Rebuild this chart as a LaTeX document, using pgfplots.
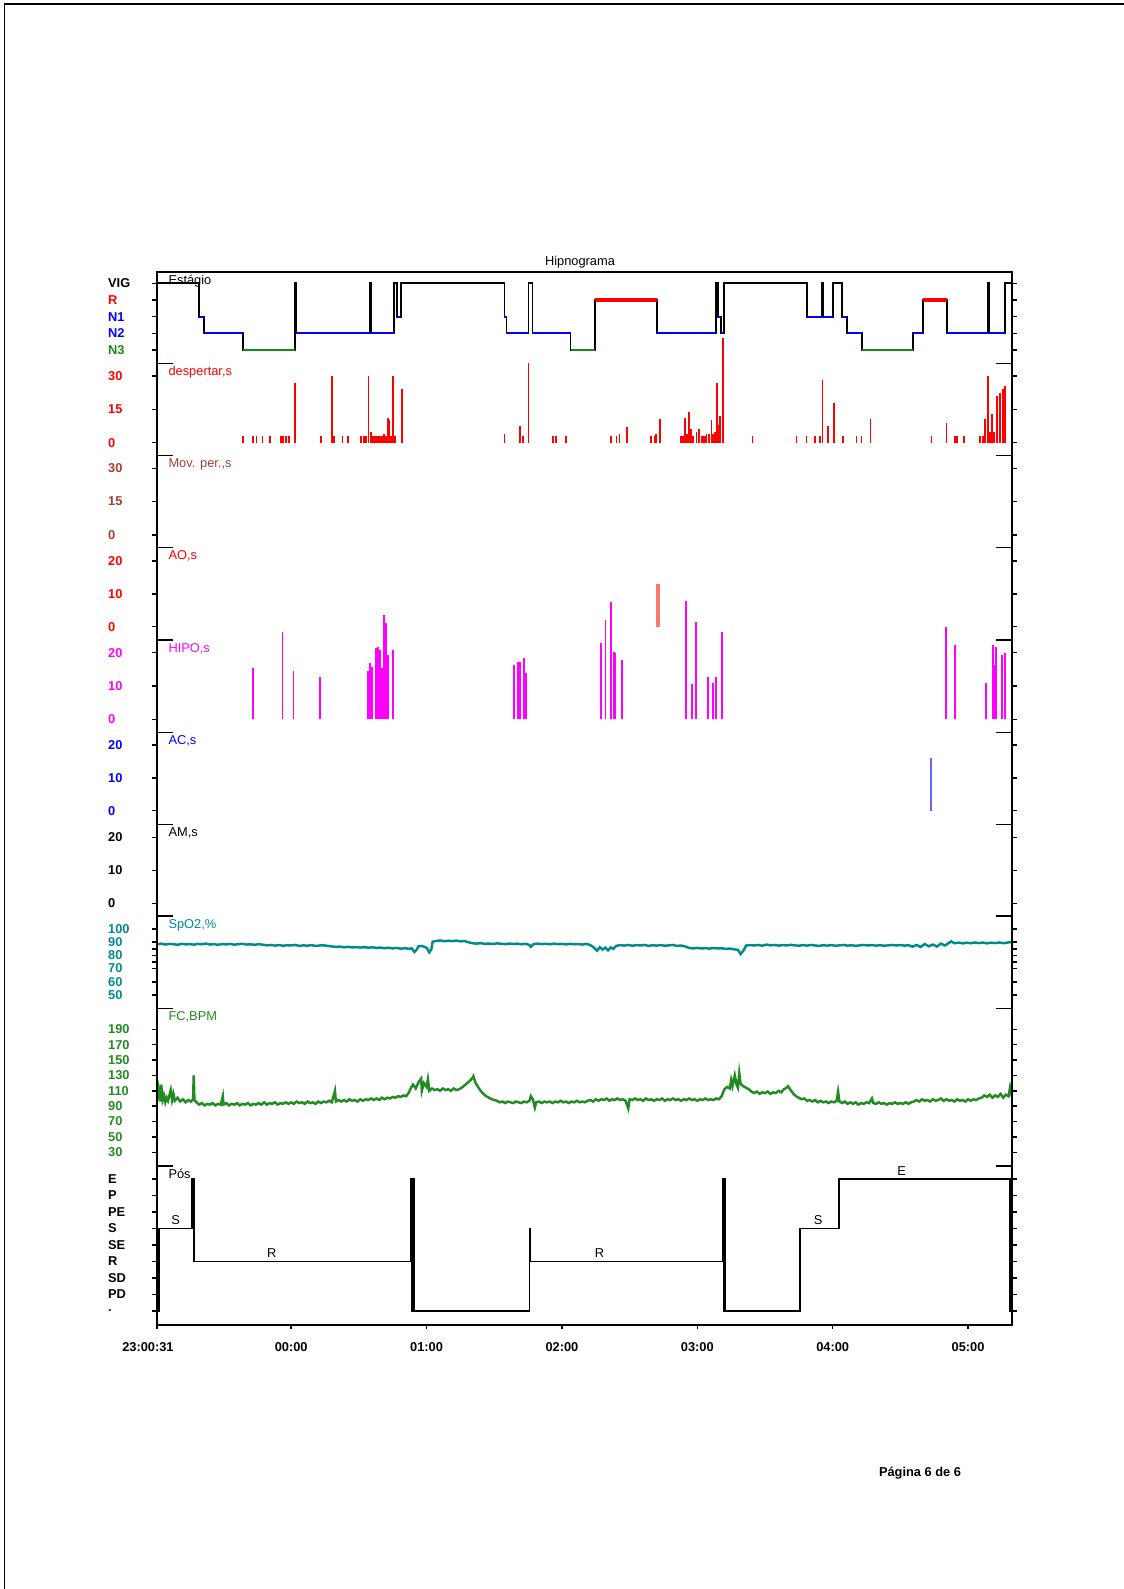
\documentclass[border=0pt]{standalone}
\usepackage{pgfplots}
\usepackage{pgfplotstable}
\pgfplotsset{compat=1.18}
\usepackage{fontspec}
\setmainfont{Liberation Sans}
\definecolor{brn}{RGB}{160,64,48}
\definecolor{tealc}{RGB}{0,139,139}
\definecolor{fcgreen}{RGB}{34,139,34}
\definecolor{mag}{RGB}{255,0,255}
\definecolor{salm}{RGB}{250,120,110}
\definecolor{acblue}{RGB}{100,100,255}
\definecolor{n3green}{RGB}{20,140,20}
\newcommand{\fs}{\fontsize{6.8bp}{8bp}\selectfont}
\newcommand{\fb}{\fontsize{6.8bp}{8bp}\selectfont\bfseries}

\pgfplotstableread{
x v
-0.99 88.4
-0.96 88.9
-0.93 88.2
-0.90 88.7
-0.87 88.5
-0.84 88.0
-0.81 88.8
-0.78 88.3
-0.75 88.6
-0.72 88.1
-0.69 88.7
-0.66 88.4
-0.63 88.9
-0.60 88.2
-0.57 88.5
-0.54 88.0
-0.51 88.6
-0.48 88.3
-0.45 88.7
-0.42 88.1
-0.39 88.5
-0.36 88.8
-0.33 88.2
-0.30 88.4
-0.27 88.0
-0.24 88.5
-0.21 88.1
-0.18 87.6
-0.15 87.9
-0.12 87.4
-0.09 87.8
-0.06 87.3
-0.03 87.7
0.00 87.5
0.03 87.9
0.06 87.2
0.09 87.6
0.12 87.3
0.15 87.8
0.18 87.1
0.21 87.5
0.24 87.6
0.27 87.2
0.30 86.8
0.33 86.4
0.36 86.7
0.39 86.1
0.42 86.5
0.45 86.0
0.48 86.3
0.51 85.9
0.54 86.2
0.57 85.8
0.60 86.1
0.63 85.7
0.66 85.9
0.69 85.4
0.72 85.8
0.75 85.3
0.78 85.7
0.81 85.0
0.84 85.5
0.87 84.9
0.89 85.4
0.91 82.6
0.925 84.0
0.94 86.8
0.96 87.2
0.98 86.6
1.00 85.8
1.02 82.3
1.035 84.5
1.045 90.4
1.07 90.9
1.10 91.3
1.13 90.7
1.16 91.1
1.19 90.8
1.22 91.2
1.25 90.6
1.28 90.9
1.31 89.9
1.34 89.2
1.37 88.9
1.40 89.3
1.43 88.7
1.46 89.0
1.49 88.6
1.52 89.1
1.55 88.8
1.58 88.5
1.61 89.0
1.64 88.6
1.67 88.9
1.70 88.4
1.73 88.8
1.76 87.9
1.77 86.5
1.79 88.6
1.82 88.9
1.85 88.5
1.88 88.8
1.91 88.4
1.94 88.9
1.97 88.5
2.00 88.7
2.03 88.3
2.06 88.8
2.09 88.4
2.12 88.6
2.15 88.2
2.18 88.7
2.21 87.8
2.24 85.6
2.26 83.5
2.28 86.2
2.30 84.4
2.32 85.8
2.34 83.8
2.36 86.0
2.38 84.9
2.40 87.2
2.43 87.8
2.46 87.4
2.49 87.9
2.52 87.3
2.55 87.8
2.58 87.5
2.61 87.9
2.64 87.2
2.67 87.7
2.70 87.4
2.73 87.8
2.76 87.3
2.79 87.6
2.82 87.9
2.85 87.2
2.88 87.5
2.91 86.8
2.94 85.6
2.97 85.3
3.00 85.7
3.03 85.2
3.06 85.5
3.09 85.1
3.12 85.6
3.15 85.2
3.18 85.4
3.21 84.9
3.24 85.2
3.27 84.6
3.30 84.2
3.32 81.0
3.34 83.5
3.36 87.4
3.39 87.8
3.42 87.5
3.45 87.9
3.48 87.3
3.51 88.2
3.54 87.6
3.57 87.9
3.60 87.4
3.63 87.8
3.66 87.5
3.69 88.0
3.72 87.6
3.75 87.3
3.78 87.8
3.81 87.4
3.84 87.9
3.87 87.5
3.90 87.2
3.93 87.7
3.96 87.4
3.99 87.8
4.02 87.3
4.05 87.6
4.08 87.9
4.11 87.4
4.14 87.7
4.17 87.2
4.20 87.6
4.23 87.9
4.26 87.5
4.29 87.8
4.32 87.4
4.35 87.7
4.38 87.3
4.41 87.6
4.44 87.9
4.47 87.5
4.50 87.8
4.53 87.4
4.56 87.7
4.59 86.6
4.62 87.9
4.65 86.3
4.68 88.6
4.71 86.9
4.74 88.2
4.77 86.7
4.80 88.9
4.83 87.5
4.86 89.5
4.875 90.6
4.90 89.2
4.93 89.7
4.96 89.1
4.99 89.6
5.02 89.2
5.05 89.8
5.08 89.3
5.11 89.7
5.14 89.1
5.17 89.6
5.20 89.3
5.23 89.8
5.26 89.2
5.29 89.7
5.32 90.0
}\spo

\pgfplotstableread{
x v
-0.99 100
-0.98 112
-0.97 96
-0.96 118
-0.95 98
-0.94 104
-0.93 95
-0.92 101
-0.91 97
-0.89 111
-0.88 98
-0.87 106
-0.86 97
-0.84 101
-0.82 96
-0.80 99
-0.78 95
-0.76 98
-0.74 96
-0.725 99
-0.72 130
-0.715 98
-0.70 95
-0.68 92
-0.66 94
-0.64 91
-0.62 93
-0.60 92
-0.58 94
-0.56 91
-0.54 93
-0.52 92
-0.505 103
-0.50 92
-0.48 94
-0.46 91
-0.44 93
-0.42 92
-0.40 94
-0.38 91
-0.36 93
-0.34 92
-0.32 94
-0.30 91
-0.28 93
-0.26 92
-0.24 94
-0.22 92
-0.20 95
-0.18 92
-0.16 94
-0.14 93
-0.12 95
-0.10 92
-0.08 94
-0.06 93
-0.04 95
-0.02 93
0.00 95
0.02 93
0.04 96
0.06 94
0.08 95
0.10 93
0.12 96
0.14 94
0.16 95
0.18 93
0.20 96
0.22 94
0.24 96
0.26 95
0.28 97
0.30 95
0.323 110
0.33 96
0.35 98
0.37 96
0.39 98
0.41 96
0.43 99
0.45 97
0.47 98
0.49 96
0.51 99
0.53 97
0.55 99
0.57 98
0.59 100
0.61 98
0.63 100
0.65 98
0.67 101
0.69 99
0.71 101
0.73 100
0.75 102
0.77 101
0.79 103
0.81 102
0.83 104
0.85 103
0.87 108
0.885 114
0.90 118
0.92 113
0.94 121
0.96 126
0.965 110
0.98 120
1.00 115
1.01 125
1.02 110
1.04 113
1.06 111
1.08 112
1.10 110
1.12 113
1.14 111
1.16 112
1.18 110
1.20 113
1.22 111
1.24 112
1.26 114
1.28 117
1.30 120
1.32 123
1.34 127
1.346 129
1.36 121
1.38 115
1.40 110
1.42 106
1.44 103
1.46 101
1.48 99
1.50 98
1.52 97
1.54 95
1.56 96
1.58 94
1.60 96
1.62 95
1.64 94
1.66 96
1.68 95
1.70 94
1.72 96
1.74 95
1.76 97
1.77 103
1.785 99
1.80 88
1.81 95
1.83 96
1.85 94
1.87 96
1.89 95
1.91 96
1.93 94
1.95 96
1.97 95
1.99 97
2.01 95
2.03 96
2.05 94
2.07 96
2.09 95
2.11 97
2.13 95
2.15 96
2.17 95
2.19 97
2.21 98
2.23 96
2.25 99
2.27 97
2.29 99
2.31 98
2.33 100
2.35 97
2.37 99
2.39 98
2.41 100
2.43 98
2.45 99
2.47 97
2.49 87
2.50 99
2.52 98
2.54 100
2.56 98
2.58 99
2.60 97
2.62 100
2.64 98
2.66 99
2.68 97
2.70 99
2.72 98
2.74 100
2.76 97
2.78 99
2.80 98
2.82 100
2.84 98
2.86 99
2.88 97
2.90 99
2.92 98
2.94 100
2.96 98
2.98 99
3.00 97
3.02 99
3.04 98
3.06 100
3.08 98
3.10 99
3.12 98
3.14 100
3.16 99
3.18 103
3.20 112
3.22 115
3.24 113
3.25 124
3.26 116
3.277 130
3.29 118
3.30 114
3.31 133
3.32 119
3.34 116
3.36 114
3.38 112
3.40 109
3.42 107
3.44 109
3.46 106
3.48 108
3.50 107
3.52 109
3.54 106
3.56 108
3.58 107
3.60 110
3.62 108
3.64 112
3.66 114
3.67 116
3.69 111
3.71 106
3.73 103
3.75 101
3.77 99
3.79 100
3.81 97
3.83 98
3.85 96
3.87 98
3.89 95
3.91 97
3.93 95
3.95 96
3.97 94
3.99 96
4.01 95
4.03 97
4.04 109
4.05 96
4.07 94
4.09 96
4.11 93
4.13 95
4.15 93
4.17 95
4.19 92
4.21 94
4.23 93
4.25 95
4.27 94
4.29 100
4.30 94
4.32 93
4.34 95
4.36 93
4.38 94
4.40 92
4.42 94
4.44 93
4.46 95
4.48 93
4.50 94
4.52 93
4.54 95
4.56 93
4.58 95
4.60 96
4.62 98
4.64 96
4.66 99
4.68 97
4.70 98
4.72 96
4.74 99
4.76 97
4.78 98
4.80 100
4.82 97
4.84 99
4.86 97
4.88 98
4.90 96
4.92 99
4.94 97
4.96 98
4.98 96
5.00 99
5.02 97
5.04 99
5.06 98
5.08 100
5.10 101
5.12 104
5.14 102
5.16 105
5.18 101
5.20 104
5.22 102
5.24 106
5.26 101
5.28 105
5.30 103
5.31 114
5.32 104
}\fc

\pgfplotstableread{
x s
-0.9914 5
-0.6805 3
-0.6435 2
-0.3550 1
0.0296 5
0.0370 2
0.5821 5
0.5895 2
0.7618 5
0.7840 3
0.8136 5
1.5754 3
1.5902 2
1.7530 5
1.7825 2
2.0636 1
2.2411 4
2.6997 2
3.1413 5
3.1509 3
3.1731 2
3.1953 5
3.8092 3
3.9238 5
3.9312 3
4.0037 5
4.0658 3
4.1028 2
4.2138 1
4.5954 2
4.6694 4
4.8469 2
5.1501 5
5.1575 2
5.2737 5
5.325 5
}\stage

\pgfplotstableread{
x p
-0.9914 0
-0.986 5
-0.983 0
-0.979 5
-0.733 8
-0.718 3
0.885 8
0.889 0
0.894 8
0.899 0
0.905 8
0.910 0
1.760 5
1.763 3
3.190 8
3.196 0
3.201 8
3.207 0
3.757 5
4.048 8
5.312 0
5.325 0
}\pos

\pgfplotsset{
  panel/.style={
    scale only axis, width=453.15bp, xmin=-0.9914, xmax=5.325,
    axis line style={draw=none}, xtick=\empty, clip=false,
    tick align=outside, major tick length=2.6bp,
    every tick/.style={black, line width=0.8bp},
    ticklabel style={font=\fb},
    yticklabel style={anchor=west, inner xsep=0pt, xshift=-23.5bp},
    extra y tick style={tick align=inside, major tick length=8.5bp},
    extra y tick labels={},
    anchor=south west,
  },
}
\tikzset{plab/.style={anchor=base west, font=\fs, xshift=2.6bp, yshift=-6.5bp}}

\begin{document}
\begin{tikzpicture}[x=0.53bp, y=0.53bp]
\useasboundingbox (0,0) rectangle (1124,1589);
% page border
\draw[line width=0.8bp] (4.5,0) -- (4.5,1589-4.2) -- (1124,1589-4.2);

% Stage panel
\begin{axis}[panel, at={(83.21bp,649.621bp)}, height=48.389bp, ymin=0.2024, ymax=5.678,
  ytick={1,2,3,4,5},
  yticklabels={\textcolor{n3green}{N3},\textcolor{blue}{N2},\textcolor{blue}{N1},\textcolor{red}{R},VIG},
  extra y ticks={5.678}]
\addplot[black, line width=1bp, const plot] table[x=x, y=s] {\stage};
\addplot[blue, line width=1bp, unbounded coords=jump] coordinates {
(-0.6805,3)(-0.6435,3)(0,nan)(-0.6435,2)(-0.3550,2)(0,nan)
(0.0370,2)(0.5821,2)(0,nan)(0.5895,2)(0.7618,2)(0,nan)
(0.7840,3)(0.8136,3)(0,nan)(1.5754,3)(1.5902,3)(0,nan)
(1.5902,2)(1.7530,2)(0,nan)(1.7825,2)(2.0636,2)(0,nan)
(2.6997,2)(3.1413,2)(0,nan)(3.1509,3)(3.1731,3)(0,nan)
(3.1731,2)(3.1953,2)(0,nan)(3.8092,3)(3.9238,3)(0,nan)
(3.9312,3)(4.0037,3)(0,nan)(4.0658,3)(4.1028,3)(0,nan)
(4.1028,2)(4.2138,2)(0,nan)(4.5954,2)(4.6694,2)(0,nan)
(4.8469,2)(5.1501,2)(0,nan)(5.1575,2)(5.2737,2)};
\addplot[n3green, line width=1bp, unbounded coords=jump] coordinates {
(-0.3550,1)(0.0296,1)(0,nan)(2.0636,1)(2.2411,1)(0,nan)(4.2138,1)(4.5954,1)};
\addplot[red, line width=1.9bp, unbounded coords=jump] coordinates {
(2.2411,4)(2.6997,4)(0,nan)(4.6694,4)(4.8469,4)};
\node[plab] at (rel axis cs:0,1) {Estágio};
\end{axis}

% despertar
\begin{axis}[panel, at={(83.21bp,600.649bp)}, height=48.972bp, ymin=-5.85, ymax=35.71,
  ytick={0,15,30}, yticklabels={0,15,30}, yticklabel style={red},
  extra y ticks={35.71}]
\addplot[red, ycomb, line width=0.9bp] coordinates {
(-0.355,3)(-0.281,3)(-0.257,3)(-0.212,3)(-0.158,3)(-0.076,3)(-0.059,3)(-0.039,3)(-0.015,3)
(0.030,27)(0.219,3)(0.301,30)(0.318,3)(0.380,3)(0.417,3)(0.515,3)(0.540,3)(0.552,3)
(0.572,30)(0.589,5)(0.600,3)(0.614,3)(0.626,3)(0.638,3)(0.650,3)(0.663,3)(0.675,3)(0.688,4)
(0.700,3)(0.713,11)(0.725,10)(0.737,3)(0.754,30)(0.769,3)(0.819,24)
(1.575,4)(1.691,7.5)(1.711,3)(1.753,36)
(1.933,3)(1.958,3)(2.032,3)(2.365,3)(2.402,3)(2.426,4)(2.480,7)(2.660,3)(2.685,3)(2.697,4)
(2.722,10.5)(2.882,3)(2.895,3)(2.907,11)(2.924,4)(2.939,14)(2.956,6)(2.970,3)(2.993,5)(3.013,6)
(3.030,3)(3.042,3)(3.055,3)(3.067,4)(3.087,4)(3.104,10)(3.118,4)(3.129,5)(3.146,27)(3.155,8)
(3.166,12)(3.190,47)(3.408,3)(3.733,3)(3.807,3)(3.869,3)(3.905,3)(3.925,28)(3.967,7.5)
(4.009,18)(4.078,3)(4.177,3)(4.214,3)(4.280,10.5)(4.731,3)(4.842,9)(4.904,3)(4.921,3)(4.970,3)
(5.089,3)(5.109,3)(5.126,10.5)(5.150,30)(5.160,5)(5.175,13)(5.192,5)(5.212,21)(5.237,22.5)
(5.256,24)(5.274,25.5)};
\node[plab, text=red] at (rel axis cs:0,1) {despertar,s};
\end{axis}

% Mov. per.
\begin{axis}[panel, at={(83.21bp,551.889bp)}, height=48.76bp, ymin=-5.71, ymax=35.67,
  ytick={0,15,30}, yticklabels={0,15,30}, yticklabel style={brn},
  extra y ticks={35.67}]
\node[plab, text=brn] at (rel axis cs:0,1) {Mov. per.,s};
\end{axis}

% AO
\begin{axis}[panel, at={(83.21bp,502.97bp)}, height=48.919bp, ymin=-4.05, ymax=24.05,
  ytick={0,10,20}, yticklabels={0,10,20}, yticklabel style={red},
  extra y ticks={24.05}]
\addplot[salm, ycomb, line width=2.1bp] coordinates {(2.711,13)};
\node[plab, text=red] at (rel axis cs:0,1) {AO,s};
\end{axis}

% HIPO
\begin{axis}[panel, at={(83.21bp,454.051bp)}, height=48.919bp, ymin=-3.90, ymax=23.81,
  ytick={0,10,20}, yticklabels={0,10,20}, yticklabel style={mag},
  extra y ticks={23.81}]
\addplot[mag, ycomb, line width=1bp] coordinates {
(-0.281,15.3)(-0.064,26.3)(0.017,14.6)(0.214,12.6)(0.565,14.6)(0.582,16.8)(0.597,15.8)
(0.626,21.3)(0.641,21.8)(0.656,20.8)(0.671,15.3)(0.683,31.3)(0.700,28.8)(0.715,19.3)(0.754,20.8)
(1.649,16.3)(1.674,17.1)(1.691,17.3)(1.723,18.3)(1.736,13.8)
(2.291,22.8)(2.322,29.8)(2.365,35.1)(2.382,20.3)(2.396,19.8)(2.446,17.8)
(2.919,35.6)(2.964,10.5)(2.988,29.3)(3.079,12.6)(3.117,10.8)(3.136,12.8)(3.185,26.3)
(4.837,27.8)(4.904,22.3)(5.133,11)(5.182,22.3)(5.192,16.3)(5.207,21.6)(5.249,19.3)(5.274,19.8)};
\node[plab, text=mag] at (rel axis cs:0,1) {HIPO,s};
\end{axis}

% AC
\begin{axis}[panel, at={(83.21bp,405.291bp)}, height=48.76bp, ymin=-4.14, ymax=23.87,
  ytick={0,10,20}, yticklabels={0,10,20}, yticklabel style={blue},
  extra y ticks={23.87}]
\addplot[acblue, ycomb, line width=1.5bp] coordinates {(4.726,16)};
\node[plab, text=blue] at (rel axis cs:0,1) {AC,s};
\end{axis}

% AM
\begin{axis}[panel, at={(83.21bp,356.69bp)}, height=48.601bp, ymin=-3.85, ymax=23.94,
  ytick={0,10,20}, yticklabels={0,10,20},
  extra y ticks={23.94}]
\node[plab] at (rel axis cs:0,1) {AM,s};
\end{axis}

% SpO2
\begin{axis}[panel, at={(83.21bp,307.771bp)}, height=48.919bp, ymin=39.92, ymax=109.85,
  ytick={50,60,70,75,80,85,90,100}, yticklabels={50,60,70,,80,,90,100}, yticklabel style={tealc},
  extra y ticks={109.85}]
\addplot[tealc, line width=1.3bp] table[x=x, y=v] {\spo};
\node[plab, text=tealc] at (rel axis cs:0,1) {SpO2,\%};
\end{axis}

% FC
\begin{axis}[panel, at={(83.21bp,224.19bp)}, height=83.581bp, ymin=12.18, ymax=217.32,
  ytick={30,50,70,90,110,130,150,170,190}, yticklabels={30,50,70,90,110,130,150,170,190},
  yticklabel style={fcgreen},
  extra y ticks={217.32}]
\addplot[fcgreen, line width=1.3bp] table[x=x, y=v] {\fc};
\node[plab, text=fcgreen] at (rel axis cs:0,1) {FC,BPM};
\end{axis}

% Pos
\begin{axis}[panel, at={(83.21bp,139.92bp)}, height=84.27bp, ymin=-0.848, ymax=8.788,
  ytick={0,...,8}, yticklabels={\textcolor{blue}{.},PD,SD,R,SE,S,PE,P,E},
  extra y ticks={8.788}]
\addplot[black, line width=1bp, const plot] table[x=x, y=p] {\pos};
\node[plab] at (rel axis cs:0,1) {Pós};
\node[anchor=base, font=\fs, yshift=1.9bp] at (axis cs:-0.853,5) {S};
\node[anchor=base, font=\fs, yshift=1.9bp] at (axis cs:-0.143,3) {R};
\node[anchor=base, font=\fs, yshift=1.9bp] at (axis cs:2.278,3) {R};
\node[anchor=base, font=\fs, yshift=1.9bp] at (axis cs:3.893,5) {S};
\node[anchor=base, font=\fs, yshift=1.9bp] at (axis cs:4.509,8) {E};
\end{axis}

% frame
\begin{axis}[scale only axis, width=453.15bp, height=558.09bp, at={(83.21bp,139.92bp)}, anchor=south west,
  xmin=-0.9914, xmax=5.325, ymin=0, ymax=1, ytick=\empty,
  xtick={0,1,2,3,4,5}, xticklabels={00:00,01:00,02:00,03:00,04:00,05:00},
  extra x ticks={-0.9914}, extra x tick labels={23:00:31},
  extra x tick style={xticklabel style={xshift=-4.8bp}},
  xtick pos=left, tick align=outside, major tick length=2.2bp,
  every tick/.style={black, line width=0.8bp},
  axis line style={line width=1bp},
  ticklabel style={font=\fb}, xticklabel style={yshift=-3.7bp}]
\end{axis}

\node[anchor=base, font=\fs] at (580,1589-265.5) {Hipnograma};
\node[anchor=base, font=\fb] at (920,1589-1476.5) {Página 6 de 6};
\end{tikzpicture}
\end{document}
